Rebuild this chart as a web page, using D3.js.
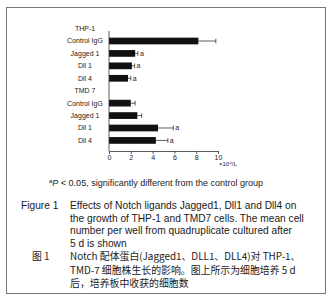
<!DOCTYPE html>
<html>
<head>
<meta charset="utf-8">
<script src="https://cdn.jsdelivr.net/npm/d3@7"></script>
<style>
  body { margin: 0; background: #fff; }
  text { font-family: "Liberation Sans", Arial, sans-serif; fill: #1a1a1a; }
</style>
</head>
<body>
<div id="chart"></div>
<script>
// rows of the chart, top to bottom (headers have no value)
var rows = ["THP-1", "Control IgG", "Jagged 1", "Dll 1", "Dll 4", "TMD 7", "Control IgG ", "Jagged 1 ", "Dll 1 ", "Dll 4 "];
var headers = ["THP-1", "TMD 7"];
var groups = ["Control IgG", "Jagged 1", "Dll 1", "Dll 4"];
var thp1Means = [8.2, 2.4, 2.1, 1.75];
var thp1Errors = [1.6, 0.25, 0.25, 0.25];
var thp1Sig = ["", "a", "a", "a"];
var tmd7Means = [2.0, 2.6, 4.5, 4.3];
var tmd7Errors = [0.4, 0.4, 1.4, 1.1];
var tmd7Sig = ["", "", "a", "a"];
var xTicks = [0, 2, 4, 6, 8, 10];
var unitLabel = "×10⁴/L";
var footnote = "P < 0.05, significantly different from the control group";
var captionEn = [
  "Effects of Notch ligands Jagged1, Dll1 and Dll4 on",
  "the growth of THP-1 and TMD7 cells. The mean cell",
  "number per well from quadruplicate cultured after",
  "5 d is shown"
];
var captionZh = [
  "Notch 配体蛋白(Jagged1、DLL1、DLL4)对 THP-1、",
  "TMD-7 细胞株生长的影响。图上所示为细胞培养 5 d",
  "后，培养板中收获的细胞数"
];

var width = 335, height = 301;
var svg = d3.select("#chart").append("svg").attr("width", width).attr("height", height);

// outer frame
svg.append("rect").attr("x", 6.5).attr("y", 7.5).attr("width", 319).attr("height", 286)
  .attr("fill", "none").attr("stroke", "#777").attr("stroke-width", 1);

// combine bars
var bars = [];
groups.forEach(function (g, i) {
  bars.push({ row: rows[1 + i], mean: thp1Means[i], err: thp1Errors[i], sig: thp1Sig[i] });
  bars.push({ row: rows[6 + i], mean: tmd7Means[i], err: tmd7Errors[i], sig: tmd7Sig[i] });
});

var x = d3.scaleLinear().domain([0, 10]).range([109, 218]);
var y = d3.scaleBand().domain(rows).range([19.5, 149.5]).paddingInner(0.46).paddingOuter(0.46);
var axisY = 151;
var labelX = 85;

// row labels
svg.selectAll("text.rowlabel").data(rows).enter().append("text")
  .attr("class", "rowlabel")
  .attr("x", labelX)
  .attr("y", function (d) { return y(d) + y.bandwidth() / 2; })
  .attr("dy", "0.35em")
  .attr("text-anchor", "middle")
  .style("font-size", "7px")
  .text(function (d) { return d.trim(); });

// bars
svg.selectAll("rect.bar").data(bars).enter().append("rect")
  .attr("class", "bar")
  .attr("x", x(0))
  .attr("y", function (d) { return y(d.row); })
  .attr("width", function (d) { return x(d.mean) - x(0); })
  .attr("height", y.bandwidth())
  .attr("fill", "#111");

// error bars
var eb = svg.selectAll("g.err").data(bars).enter().append("g").attr("class", "err");
eb.append("line")
  .attr("x1", function (d) { return x(d.mean); })
  .attr("x2", function (d) { return x(d.mean + d.err); })
  .attr("y1", function (d) { return y(d.row) + y.bandwidth() / 2; })
  .attr("y2", function (d) { return y(d.row) + y.bandwidth() / 2; })
  .attr("stroke", "#333").attr("stroke-width", 0.8);
eb.append("line")
  .attr("x1", function (d) { return x(d.mean + d.err); })
  .attr("x2", function (d) { return x(d.mean + d.err); })
  .attr("y1", function (d) { return y(d.row) + 1; })
  .attr("y2", function (d) { return y(d.row) + y.bandwidth() - 1; })
  .attr("stroke", "#333").attr("stroke-width", 0.8);
eb.append("text")
  .attr("x", function (d) { return x(d.mean + d.err) + 2; })
  .attr("y", function (d) { return y(d.row) + y.bandwidth() / 2; })
  .attr("dy", "0.35em")
  .style("font-size", "7px")
  .text(function (d) { return d.sig; });

// y axis line
svg.append("line").attr("x1", x(0)).attr("x2", x(0))
  .attr("y1", 31).attr("y2", axisY)
  .attr("stroke", "#333").attr("stroke-width", 0.8);

// x axis
var xAxis = svg.append("g")
  .attr("transform", "translate(0," + axisY + ")")
  .call(d3.axisBottom(x).tickValues(xTicks).tickSize(3).tickSizeOuter(0));
xAxis.select(".domain").attr("stroke", "#333").attr("stroke-width", 0.8);
xAxis.selectAll(".tick line").attr("stroke", "#333").attr("stroke-width", 0.8);
xAxis.selectAll(".tick text").attr("y", 4.5)
  .style("font-size", "7px").style("font-family", "Liberation Sans, Arial, sans-serif").attr("fill", "#1a1a1a");

svg.append("text").attr("x", 219).attr("y", 166)
  .style("font-size", "6px").text(unitLabel);

// footnote
var fn = svg.append("text").attr("x", 49).attr("y", 186).style("font-size", "9px");
fn.append("tspan").attr("dy", "-3").style("font-size", "6px").text("a");
fn.append("tspan").attr("dy", "3").style("font-style", "italic").text("P");
fn.append("tspan").text(footnote.slice(1));

// caption
var capSize = "10.2px";
svg.append("text").attr("x", 21).attr("y", 209).style("font-size", capSize).text("Figure 1");
svg.selectAll("text.capen").data(captionEn).enter().append("text")
  .attr("class", "capen")
  .attr("x", 70)
  .attr("y", function (d, i) { return 209 + i * 12.6; })
  .style("font-size", capSize)
  .text(function (d) { return d; });

var zhSize = "9.9px";
svg.append("text").attr("x", 32).attr("y", 260)
  .style("font-size", zhSize)
  .style("font-family", "'Noto Sans CJK SC', sans-serif")
  .text("图 1");
svg.selectAll("text.capzh").data(captionZh).enter().append("text")
  .attr("class", "capzh")
  .attr("x", 70)
  .attr("y", function (d, i) { return 260 + i * 13.5; })
  .style("font-size", zhSize)
  .style("font-family", "'Noto Sans CJK SC', 'Liberation Sans', sans-serif")
  .text(function (d) { return d; });
</script>
</body>
</html>
